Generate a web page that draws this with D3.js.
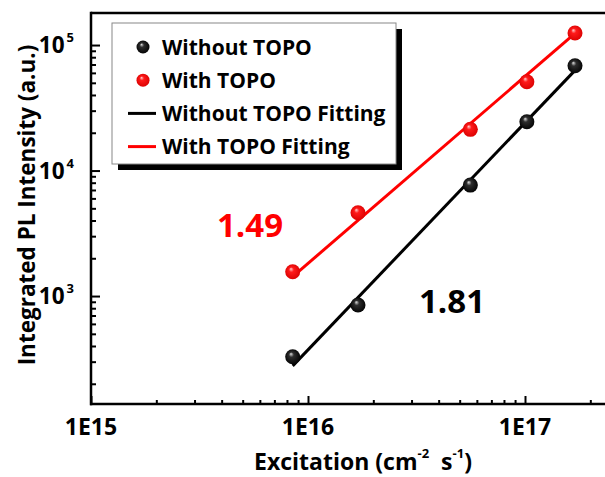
<!DOCTYPE html>
<html>
<head>
<meta charset="utf-8">
<script src="https://cdn.jsdelivr.net/npm/d3@7"></script>
<style>
  html, body { margin: 0; padding: 0; background: #fff; }
  svg { display: block; }
  text { font-family: "Open Sans", "DejaVu Sans", sans-serif; font-weight: 700; fill: #000; }
</style>
</head>
<body>
<svg id="chart" width="605" height="477"></svg>
<script>
// Excitation flux (cm^-2 s^-1)
const excitation = [8.5e15, 1.7e16, 5.6e16, 1.02e17, 1.7e17];
// Integrated PL intensity (a.u.)
const withoutTopo = [328, 848, 7660, 24500, 68400];
const withTopo = [1560, 4610, 21300, 51000, 124600];
// Power-law exponents from the fits
const slopeWithout = 1.81;
const slopeWith = 1.49;

const xMajorTicks = [1e15, 1e16, 1e17];
const xTickLabels = ["1E15", "1E16", "1E17"];
const yMajorTicks = [1e3, 1e4, 1e5];
const yTickExponents = ["3", "4", "5"];

const legendLabels = ["Without TOPO", "With TOPO", "Without TOPO Fitting", "With TOPO Fitting"];

const svg = d3.select("#chart");
const W = 605, H = 477;

const x = d3.scaleLog().domain([1e15, 1e18]).range([91, 742]);
const y = d3.scaleLog().domain([138, 1.8e5]).range([404, 13]);

// sphere-shaded marker fills
const defs = svg.append("defs");
function ballGradient(id, hi, mid, edge) {
  const g = defs.append("radialGradient").attr("id", id)
    .attr("cx", "50%").attr("cy", "50%").attr("r", "55%")
    .attr("fx", "38%").attr("fy", "30%");
  g.append("stop").attr("offset", "0%").attr("stop-color", hi);
  g.append("stop").attr("offset", "30%").attr("stop-color", mid);
  g.append("stop").attr("offset", "100%").attr("stop-color", edge);
}
ballGradient("ballBlack", "#e0e0e0", "#2e2e2e", "#000");
ballGradient("ballRed", "#ffd0d0", "#ff1a1a", "#d80000");

const clip = defs.append("clipPath").attr("id", "plotClip");
clip.append("rect").attr("x", 0).attr("y", 0).attr("width", W).attr("height", H);

// axes frame
const [x0, x1] = x.range();
const [yb, yt] = y.range();
const frame = svg.append("g").attr("clip-path", "url(#plotClip)");
frame.append("line").attr("x1", x0).attr("x2", x1).attr("y1", yt).attr("y2", yt)
  .attr("stroke", "#000").attr("stroke-width", 2.5);

// bottom axis with inward ticks
const xMinor = [];
[1e15, 1e16, 1e17].forEach(d => { for (let k = 2; k <= 9; k++) xMinor.push(d * k); });
const xAxis = svg.append("g").attr("transform", `translate(0,${yb})`);
xAxis.call(d3.axisBottom(x).tickValues(xMinor.filter(v => x(v) < W)).tickSize(-4).tickFormat(""));
xAxis.append("g").call(d3.axisBottom(x).tickValues(xMajorTicks).tickSize(-8).tickFormat(""));
xAxis.selectAll(".domain").remove();
xAxis.selectAll("line").attr("stroke", "#000").attr("stroke-width", 2);
xAxis.append("line").attr("x1", x0 - 1).attr("x2", W).attr("y1", 0).attr("y2", 0)
  .attr("stroke", "#000").attr("stroke-width", 2.5);
xAxis.selectAll(".xlab").data(xMajorTicks).enter().append("text")
  .attr("class", "xlab")
  .attr("x", d => x(d)).attr("y", 31)
  .attr("text-anchor", "middle").attr("font-size", 23)
  .text((d, i) => xTickLabels[i]);

// left axis with inward ticks
const yMinor = [];
[100, 1e3, 1e4, 1e5].forEach(d => { for (let k = 2; k <= 9; k++) { const v = d * k; if (v > 138 && v < 1.8e5) yMinor.push(v); } });
const yAxis = svg.append("g").attr("transform", `translate(${x0},0)`);
yAxis.call(d3.axisLeft(y).tickValues(yMinor).tickSize(-5).tickFormat(""));
yAxis.append("g").call(d3.axisLeft(y).tickValues(yMajorTicks).tickSize(-9).tickFormat(""));
yAxis.selectAll(".domain").remove();
yAxis.selectAll("line").attr("stroke", "#000").attr("stroke-width", 2);
yAxis.append("line").attr("x1", 0).attr("x2", 0).attr("y1", yt - 1.2).attr("y2", yb + 1.2)
  .attr("stroke", "#000").attr("stroke-width", 2.5);
const ylab = yAxis.selectAll(".ylab").data(yMajorTicks).enter().append("text")
  .attr("class", "ylab")
  .attr("x", -17).attr("y", d => y(d) + 8)
  .attr("text-anchor", "end").attr("font-size", 22.5);
ylab.append("tspan").text("10");
ylab.append("tspan").attr("font-size", 13).attr("dy", -11).attr("dx", 2).text((d, i) => yTickExponents[i]);

// axis titles
const xTitle = svg.append("text").attr("x", 363).attr("y", 470)
  .attr("text-anchor", "middle").attr("font-size", 23);
xTitle.append("tspan").text("Excitation (cm");
xTitle.append("tspan").attr("font-size", 13).attr("dy", -12).text("-2");
xTitle.append("tspan").attr("dy", 12).text("\u00a0\u00a0s");
xTitle.append("tspan").attr("font-size", 13).attr("dy", -12).text("-1");
xTitle.append("tspan").attr("dy", 12).text(")");

svg.append("text").attr("transform", "translate(35,205) rotate(-90)")
  .attr("text-anchor", "middle").attr("font-size", 22.5)
  .text("Integrated PL Intensity (a.u.)");

// power-law fit lines with the stated exponents
function fitLine(xs, ys, slope) {
  const lx = xs.map(Math.log10), ly = ys.map(Math.log10);
  const b = d3.mean(ly.map((v, i) => v - slope * lx[i]));
  const ends = [d3.min(xs), d3.max(xs)];
  return ends.map(v => [v, Math.pow(10, b + slope * Math.log10(v))]);
}
const line = d3.line().x(d => x(d[0])).y(d => y(d[1]));
svg.append("path").attr("d", line(fitLine(excitation, withoutTopo, slopeWithout)))
  .attr("stroke", "#000").attr("stroke-width", 3).attr("fill", "none");
svg.append("path").attr("d", line(fitLine(excitation, withTopo, slopeWith)))
  .attr("stroke", "#ff0000").attr("stroke-width", 3).attr("fill", "none");

// data points
svg.append("g").selectAll("circle").data(excitation).enter().append("circle")
  .attr("cx", d => x(d)).attr("cy", (d, i) => y(withoutTopo[i])).attr("r", 7.5)
  .attr("fill", "url(#ballBlack)");
svg.append("g").selectAll("circle").data(excitation).enter().append("circle")
  .attr("cx", d => x(d)).attr("cy", (d, i) => y(withTopo[i])).attr("r", 7.5)
  .attr("fill", "url(#ballRed)");

// slope annotations
svg.append("text").attr("x", 250).attr("y", 237).attr("text-anchor", "middle")
  .attr("font-size", 33).style("fill", "#ff0000").text(slopeWith.toFixed(2));
svg.append("text").attr("x", 452).attr("y", 313).attr("text-anchor", "middle")
  .attr("font-size", 33).text(slopeWithout.toFixed(2));

// legend with drop shadow
const lg = svg.append("g");
lg.append("rect").attr("x", 118).attr("y", 29).attr("width", 284).attr("height", 141).attr("fill", "#000");
lg.append("rect").attr("x", 112).attr("y", 23).attr("width", 284).attr("height", 141)
  .attr("fill", "#fff").attr("stroke", "#888").attr("stroke-width", 1);
const rowY = i => 47 + i * 33.2;
lg.append("circle").attr("cx", 143).attr("cy", rowY(0)).attr("r", 6.5).attr("fill", "url(#ballBlack)");
lg.append("circle").attr("cx", 143).attr("cy", rowY(1)).attr("r", 6.5).attr("fill", "url(#ballRed)");
lg.append("line").attr("x1", 128).attr("x2", 156).attr("y1", rowY(2)).attr("y2", rowY(2))
  .attr("stroke", "#000").attr("stroke-width", 3);
lg.append("line").attr("x1", 128).attr("x2", 156).attr("y1", rowY(3)).attr("y2", rowY(3))
  .attr("stroke", "#ff0000").attr("stroke-width", 3);
lg.selectAll(".lt").data(legendLabels).enter().append("text").attr("class", "lt")
  .attr("x", 162).attr("y", (d, i) => rowY(i) + 7.5)
  .attr("font-size", 21).text(d => d);
</script>
</body>
</html>
